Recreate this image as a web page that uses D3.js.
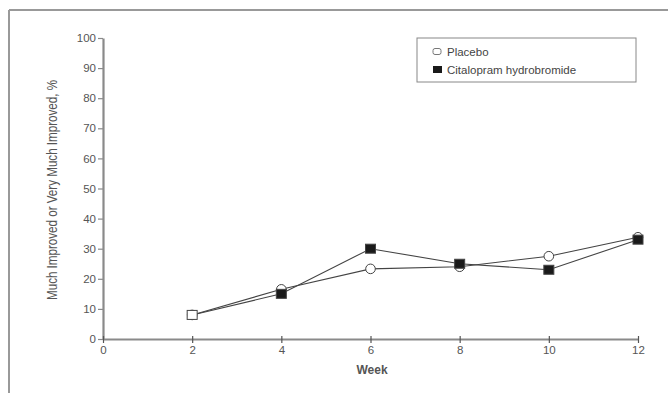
<!DOCTYPE html>
<html>
<head>
<meta charset="utf-8">
<script src="https://cdn.jsdelivr.net/npm/d3@7"></script>
<style>
  html, body { margin: 0; padding: 0; background: #fff; }
  svg { display: block; font-family: "Liberation Sans", Arial, sans-serif; }
</style>
</head>
<body>
<svg id="chart" width="668" height="393"></svg>
<script>
// Response rates by study week
const weeks = [2, 4, 6, 8, 10, 12];
const placebo = [8, 16.5, 23.3, 24, 27.5, 33.8];
const citalopram = [8, 15, 30, 25, 23, 33];
// the first citalopram point is drawn open where both series coincide
const citalopramOpen = [true, false, false, false, false, false];

const xTicks = [0, 2, 4, 6, 8, 10, 12];
const yTicks = [0, 10, 20, 30, 40, 50, 60, 70, 80, 90, 100];
const seriesNames = ["Placebo", "Citalopram hydrobromide"];

const svg = d3.select("#chart");
const axisColor = "#8a8a8a";
const textColor = "#555";

// Outer frame (top and left edges)
svg.append("line").attr("x1", 9).attr("x2", 668).attr("y1", 10).attr("y2", 10)
  .attr("stroke", "#999").attr("stroke-width", 2);
svg.append("line").attr("x1", 9).attr("x2", 9).attr("y1", 10).attr("y2", 393)
  .attr("stroke", "#999").attr("stroke-width", 2);

const x = d3.scaleLinear().domain([0, 12]).range([103, 638]);
const y = d3.scaleLinear().domain([0, 100]).range([339, 38]);

// Y axis
const yAxis = svg.append("g").attr("transform", `translate(${x(0)},0)`)
  .call(d3.axisLeft(y).tickValues(yTicks).tickSize(5).tickPadding(2).tickSizeOuter(0));
yAxis.select(".domain").attr("stroke", axisColor).attr("stroke-width", 2.2);
yAxis.selectAll(".tick line").attr("stroke", axisColor).attr("stroke-width", 1.2);
yAxis.selectAll(".tick text").attr("fill", textColor).attr("font-size", 11.5)
  .attr("font-family", "Liberation Sans, Arial, sans-serif");

// X axis
const xAxis = svg.append("g").attr("transform", `translate(0,${y(0)})`)
  .call(d3.axisBottom(x).tickValues(xTicks).tickSize(4).tickPadding(3).tickSizeOuter(0));
xAxis.select(".domain").attr("stroke", axisColor).attr("stroke-width", 2.2);
xAxis.selectAll(".tick line").attr("stroke", "#555").attr("stroke-width", 1.2)
  .attr("y1", -3);
xAxis.selectAll(".tick text").attr("fill", textColor).attr("font-size", 11.5)
  .attr("font-family", "Liberation Sans, Arial, sans-serif");

// Axis titles
svg.append("text")
  .attr("x", 372).attr("y", 374)
  .attr("text-anchor", "middle")
  .attr("font-size", 12).attr("font-weight", "bold").attr("fill", "#555")
  .text("Week");

svg.append("text")
  .attr("transform", "translate(57,190) rotate(-90)")
  .attr("text-anchor", "middle")
  .attr("font-family", "Liberation Sans Narrow, Arial Narrow, sans-serif")
  .attr("font-size", 14).attr("fill", "#555")
  .attr("textLength", 220).attr("lengthAdjust", "spacingAndGlyphs")
  .text("Much Improved or Very Much Improved, %");

// Series lines
const line = d3.line().x(d => x(d[0])).y(d => y(d[1]));
const placeboPts = weeks.map((w, i) => [w, placebo[i]]);
const drugPts = weeks.map((w, i) => [w, citalopram[i]]);

svg.append("path").datum(placeboPts).attr("d", line)
  .attr("fill", "none").attr("stroke", "#444").attr("stroke-width", 1.1);
svg.append("path").datum(drugPts).attr("d", line)
  .attr("fill", "none").attr("stroke", "#444").attr("stroke-width", 1.1);

// Placebo markers: open circles
svg.append("g").selectAll("circle").data(placeboPts).join("circle")
  .attr("cx", d => x(d[0])).attr("cy", d => y(d[1])).attr("r", 4.8)
  .attr("fill", "#fff").attr("stroke", "#444").attr("stroke-width", 1);

// Citalopram markers: filled squares
svg.append("g").selectAll("rect").data(drugPts).join("rect")
  .attr("x", d => x(d[0]) - 5).attr("y", d => y(d[1]) - 4.5)
  .attr("width", 10).attr("height", 9)
  .attr("fill", (d, i) => citalopramOpen[i] ? "#fff" : "#1a1a1a")
  .attr("stroke", "#444").attr("stroke-width", 1);

// Legend
const legend = svg.append("g");
legend.append("rect").attr("x", 417).attr("y", 38).attr("width", 219).attr("height", 44)
  .attr("fill", "#fff").attr("stroke", "#888").attr("stroke-width", 1);
legend.append("rect").attr("x", 433).attr("y", 48.5).attr("width", 8).attr("height", 6)
  .attr("rx", 2).attr("fill", "#fff").attr("stroke", "#777").attr("stroke-width", 1);
legend.append("rect").attr("x", 433).attr("y", 66).attr("width", 9).attr("height", 7)
  .attr("fill", "#1a1a1a");
legend.append("text").attr("x", 447).attr("y", 56).attr("font-size", 11.5)
  .attr("fill", "#444").text(seriesNames[0]);
legend.append("text").attr("x", 447).attr("y", 74).attr("font-size", 11.5)
  .attr("fill", "#444").text(seriesNames[1]);
</script>
</body>
</html>
